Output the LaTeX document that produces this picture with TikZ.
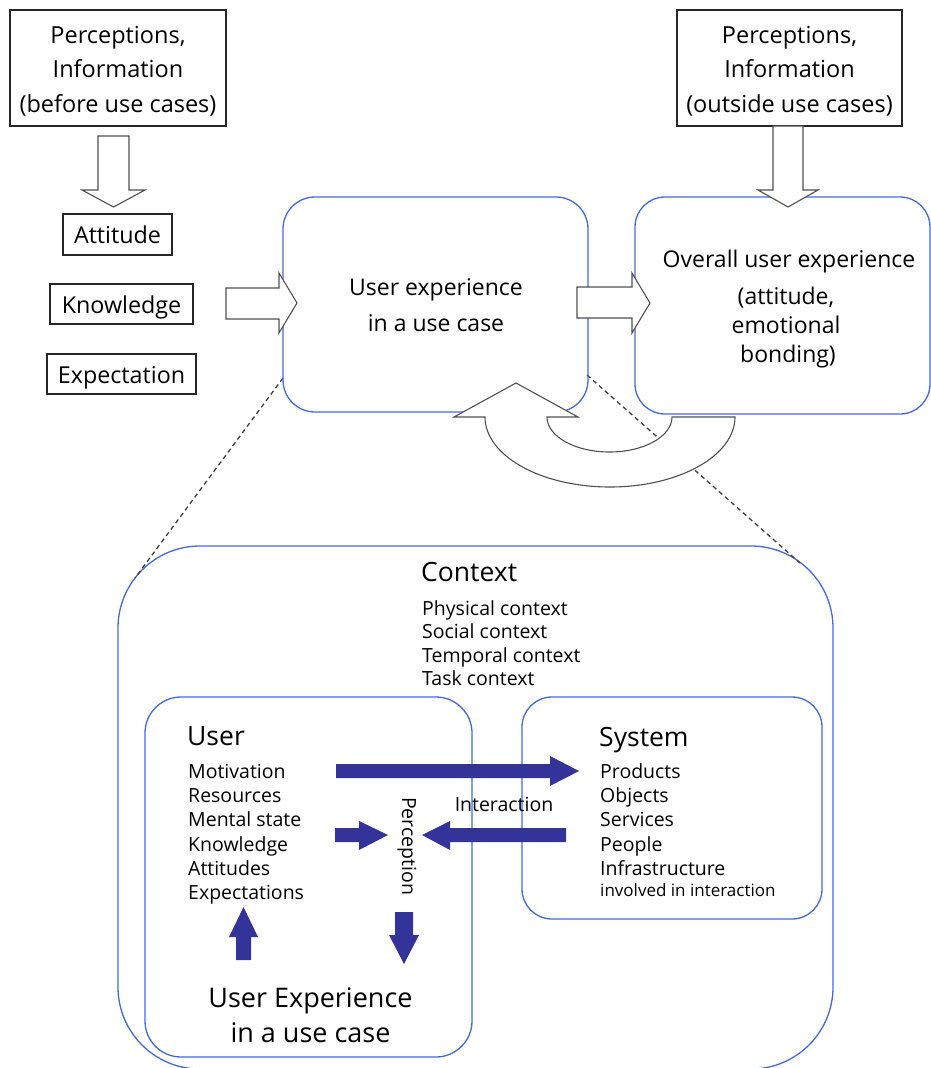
\documentclass[tikz,border=0pt]{standalone}
\usepackage{fontspec}
\setmainfont{Open Sans}
\newcommand\fsz[1]{\fontsize{#1}{#1}\selectfont}
\definecolor{boxblue}{RGB}{68,104,222}
\definecolor{arrblue}{RGB}{51,51,153}
\definecolor{hollowgray}{RGB}{80,80,80}
\begin{document}
\begin{tikzpicture}[x=1pt,y=-1pt,
  plainbox/.style={draw=black!85,line width=1.1pt,fill=white,inner sep=0pt},
  roundbox/.style={draw=boxblue,line width=1.3pt,inner sep=0pt},
  hollowarr/.style={draw=hollowgray,line width=1.1pt,fill=white,line join=miter},
  solidarr/.style={fill=arrblue,draw=none},
  dashline/.style={draw=black!75,line width=1.3pt,dash pattern=on 4.5pt off 3.5pt},
  midtxt/.style={font=\fsz{23},inner sep=0pt,anchor=base},
  smalltxt/.style={font=\fsz{19.5},inner sep=0pt,anchor=base west},
  titletxt/.style={font=\fsz{26.5},inner sep=0pt,anchor=base west}]
\useasboundingbox (0,0) rectangle (931,1068);

% ---------- large boxes ----------
\node[roundbox,rounded corners=82pt,minimum width=715pt,minimum height=523pt] (context) at (475.5,807.5) {};
\coordinate (dl1) at (283,378);
\coordinate (dl2) at (135,578);
\coordinate (dr1) at (587,375);
\coordinate (dr2) at (800,563);
\draw[dashline] (dl1) -- (dl2);
\draw[dashline] (dr1) -- (dr2);

\node[roundbox,rounded corners=32pt,minimum width=305pt,minimum height=215pt] (ux) at (435.5,304.5) {};
\node[roundbox,rounded corners=30pt,minimum width=295pt,minimum height=217pt] (overall) at (782.5,305.5) {};
\node[roundbox,rounded corners=36pt,minimum width=327pt,minimum height=360pt] (user) at (308.5,877) {};
\node[roundbox,rounded corners=30pt,minimum width=300pt,minimum height=222pt] (system) at (672,808) {};

% ---------- top boxes ----------
\node[plainbox,minimum width=216pt,minimum height=116pt] (pl) at (118,68) {};
\node[plainbox,minimum width=225pt,minimum height=116pt] (pr) at (789.5,68) {};
\node[midtxt,font=\fsz{23.5}] (pl1) at (118,43) {Perceptions,};
\node[midtxt,font=\fsz{23.5}] (pl2) at (118,77.5) {Information};
\node[midtxt,font=\fsz{23.5}] (pl3) at (118,112) {(before use cases)};
\node[midtxt,font=\fsz{23.5}] (pr1) at (789.5,43) {Perceptions,};
\node[midtxt,font=\fsz{23.5}] (pr2) at (789.5,77.5) {Information};
\node[midtxt,font=\fsz{23.5}] (pr3) at (789.5,112) {(outside use cases)};

\node[plainbox,minimum width=109pt,minimum height=41pt] (att) at (117.5,234.5) {};
\node[plainbox,minimum width=143pt,minimum height=40pt] (kno) at (121.5,304) {};
\node[plainbox,minimum width=149pt,minimum height=40pt] (exp) at (121.5,374) {};
\node[midtxt,font=\fsz{23.3}] (attt) at (117.5,243) {Attitude};
\node[midtxt,font=\fsz{23.3}] (knot) at (121.5,313) {Knowledge};
\node[midtxt,font=\fsz{23.3}] (expt) at (121.5,383) {Expectation};

% ---------- hollow arrows ----------
\draw[hollowarr] (98,136) -- (129,136) -- (129,190) -- (145,190) -- (113.5,207) -- (82,190) -- (98,190) -- cycle;
\draw[hollowarr] (773,126) -- (803,126) -- (803,190) -- (818,190) -- (788,207) -- (758,190) -- (773,190) -- cycle;
\draw[hollowarr] (226,288) -- (279,288) -- (279,273) -- (297,303) -- (279,333) -- (279,319) -- (226,319) -- cycle;
\draw[hollowarr] (577,287) -- (632,287) -- (632,273) -- (650,303) -- (632,333) -- (632,318) -- (577,318) -- cycle;

% U-turn arrow
\draw[hollowarr] (672,417) -- (735,417)
  arc[start angle=0,end angle=180,x radius=125,y radius=70]
  -- (454,417) -- (516,383) -- (578,417) -- (547,417)
  arc[start angle=180,end angle=0,x radius=62.5,y radius=35] -- cycle;

% ---------- texts upper ----------
\node[midtxt] (uxt1) at (436,295) {User experience};
\node[midtxt] (uxt2) at (436,331) {in a use case};
\node[midtxt] (ov1) at (789,267) {Overall user experience};
\node[midtxt] (ov2) at (786,304) {(attitude,};
\node[midtxt] (ov3) at (786,333) {emotional};
\node[midtxt] (ov4) at (788,362) {bonding)};

% ---------- context ----------
\node[titletxt] (ctxt) at (421,581) {Context};
\node[smalltxt] (c1) at (422,615) {Physical context};
\node[smalltxt] (c2) at (422,638.5) {Social context};
\node[smalltxt] (c3) at (422,662) {Temporal context};
\node[smalltxt] (c4) at (422,685.5) {Task context};

% ---------- user ----------
\node[titletxt] (usert) at (187,745) {User};
\node[smalltxt] (u1) at (188,778) {Motivation};
\node[smalltxt] (u2) at (188,802) {Resources};
\node[smalltxt] (u3) at (188,826.5) {Mental state};
\node[smalltxt] (u4) at (188,851) {Knowledge};
\node[smalltxt] (u5) at (188,875) {Attitudes};
\node[smalltxt] (u6) at (188,899) {Expectations};
\node[midtxt,font=\fsz{27}] (ue1) at (310.5,1007) {User Experience};
\node[midtxt,font=\fsz{27}] (ue2) at (310.5,1042) {in a use case};

% ---------- system ----------
\node[titletxt] (syst) at (599,746) {System};
\node[smalltxt] (s1) at (600,778) {Products};
\node[smalltxt] (s2) at (600,802) {Objects};
\node[smalltxt] (s3) at (600,826.5) {Services};
\node[smalltxt] (s4) at (600,851) {People};
\node[smalltxt] (s5) at (600,875) {Infrastructure};
\node[smalltxt,font=\fsz{17}] (s6) at (600,896) {involved in interaction};

% ---------- solid arrows ----------
\fill[solidarr] (336,764) -- (550,764) -- (550,756) -- (579,771) -- (550,786) -- (550,778) -- (336,778) -- cycle;
\fill[solidarr] (335,828) -- (359,828) -- (359,821) -- (388,835) -- (359,850) -- (359,842) -- (335,842) -- cycle;
\fill[solidarr] (566,828) -- (450,828) -- (450,821) -- (422,835) -- (450,850) -- (450,842) -- (566,842) -- cycle;
\fill[solidarr] (395,912) -- (413,912) -- (413,935) -- (419,935) -- (404,964) -- (389,935) -- (395,935) -- cycle;
\fill[solidarr] (236,960) -- (251,960) -- (251,937) -- (258,937) -- (243.5,907) -- (229,937) -- (236,937) -- cycle;

\node[smalltxt,anchor=base] (inter) at (504,811) {Interaction};
\node[font=\fsz{19.5},inner sep=0pt,rotate=-90] (perc) at (407,846) {Perception};
\end{tikzpicture}
\end{document}
